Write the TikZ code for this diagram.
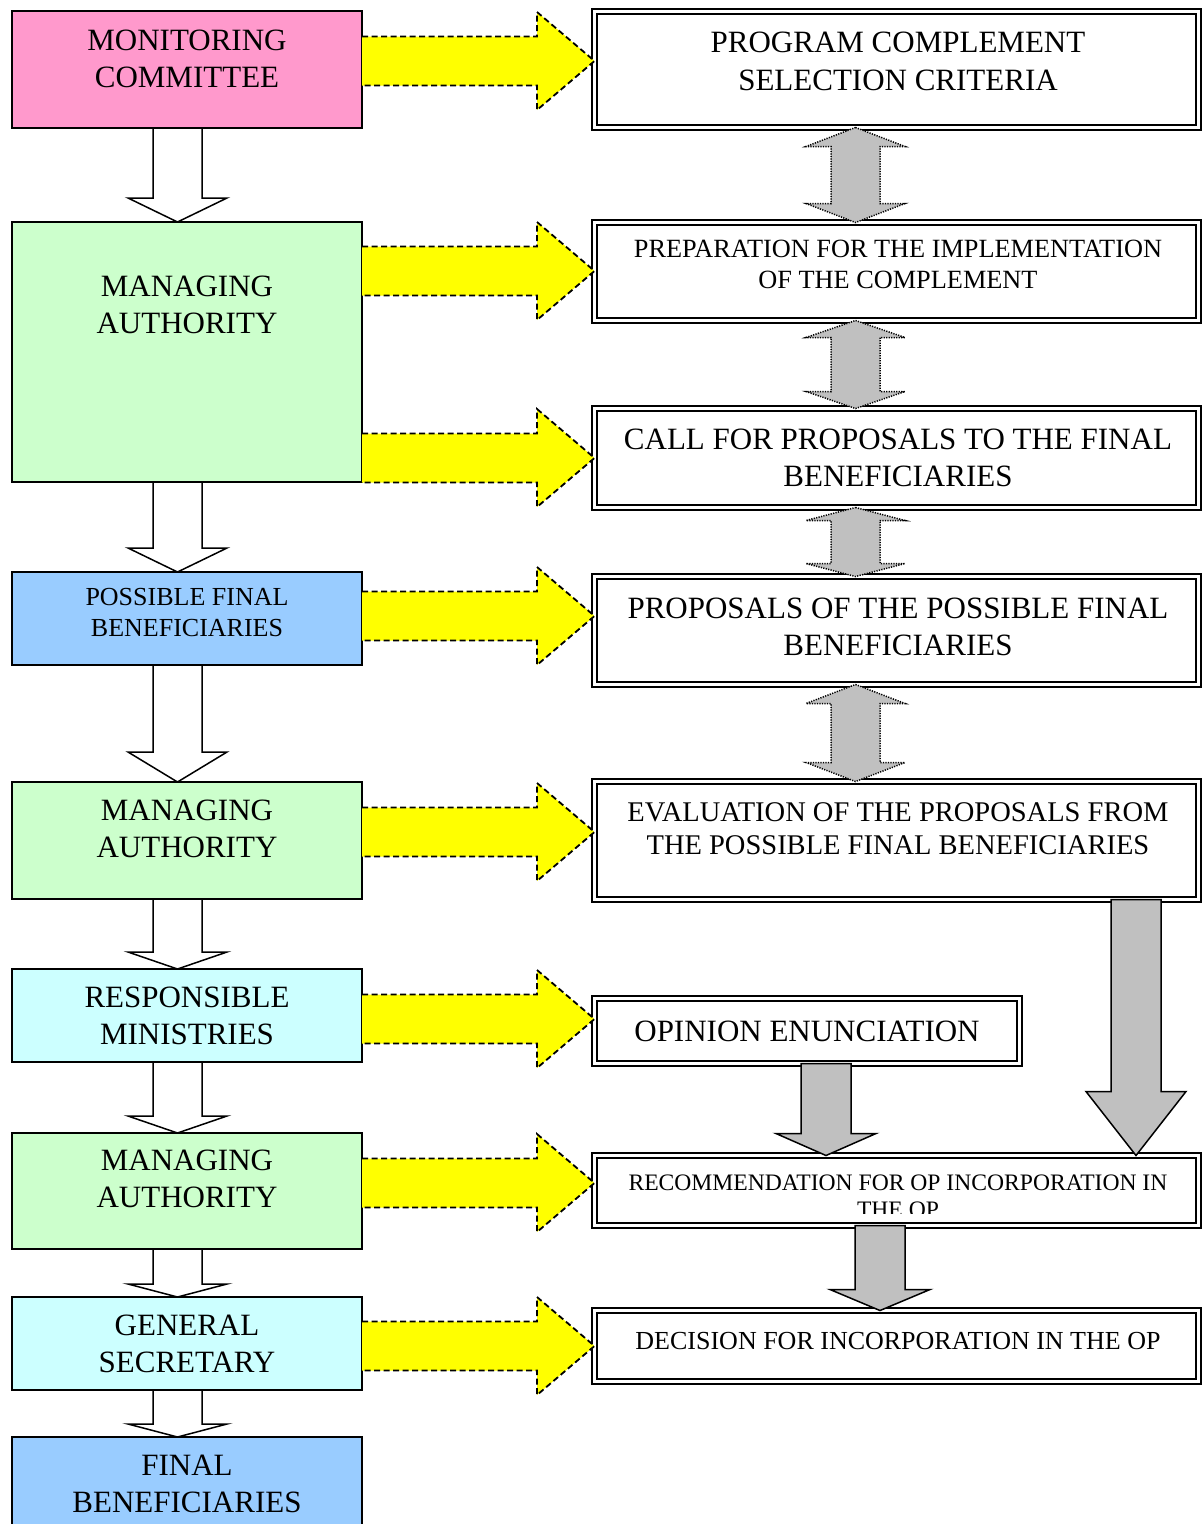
\documentclass[tikz,border=0pt]{standalone}
\usepackage{fontspec}
\setmainfont{Liberation Serif}
\usetikzlibrary{calc}
\definecolor{cpink}{HTML}{FF99CC}
\definecolor{cgreen}{HTML}{CCFFCC}
\definecolor{cblue}{HTML}{99CCFF}
\definecolor{ccyan}{HTML}{CCFFFF}
\definecolor{cyel}{HTML}{FFFF00}
\definecolor{cgray}{HTML}{C0C0C0}
\tikzset{
  lbox/.style={draw, line width=1.5pt, outer sep=0pt, inner sep=0pt, minimum width=350pt},
  rbox/.style={draw, line width=2pt, double=white, double distance=3pt, outer sep=0pt, inner sep=0pt},
  fbig/.style={font=\fontsize{31}{37}\selectfont, align=center, inner sep=0pt},
  fmid/.style={font=\fontsize{28.5}{33}\selectfont, align=center, inner sep=0pt},
  fsmall/.style={font=\fontsize{26}{31}\selectfont, align=center, inner sep=0pt},
  ftiny/.style={font=\fontsize{23.6}{27}\selectfont, align=center, inner sep=0pt},
  yfill/.style={fill=cyel},
  ydash/.style={draw=black, line width=1.8pt, dash pattern=on 6pt off 3.5pt},
  warr/.style={draw=black, line width=1.5pt, line join=miter},
  garr/.style={draw=black, fill=cgray, line width=1.5pt, line join=miter},
  gdarr/.style={draw=black, fill=cgray, line width=1.5pt, dash pattern=on 1.2pt off 1.3pt},
}
% yellow block arrow from left node #1 to right node #2 at height #3
\newcommand\yarrow[3]{%
  \fill[yfill] let \p1=(#1.east), \p2=(#2.west) in
    (\x1,{-#3pt+24.5pt}) -- (\x2-57.5pt,{-#3pt+24.5pt}) -- (\x2-57.5pt,{-#3pt+49pt}) --
    (\x2,{-#3pt}) -- (\x2-57.5pt,{-#3pt-49pt}) -- (\x2-57.5pt,{-#3pt-24.5pt}) --
    (\x1,{-#3pt-24.5pt}) -- cycle;
  \draw[ydash] let \p1=(#1.east), \p2=(#2.west) in
    (\x1,{-#3pt+24.5pt}) -- (\x2-57.5pt,{-#3pt+24.5pt}) -- (\x2-57.5pt,{-#3pt+49pt}) --
    (\x2,{-#3pt}) -- (\x2-57.5pt,{-#3pt-49pt}) -- (\x2-57.5pt,{-#3pt-24.5pt}) --
    (\x1,{-#3pt-24.5pt});}
% white block arrow between left nodes, head height #3
\newcommand\warrow[3]{%
  \draw[warr] let \p1=(#1.south), \p2=(#2.north) in
    (\x1-34pt,\y1) -- (\x1-34pt,\y2+#3pt) -- (\x1-59pt,\y2+#3pt) -- (\x1-9.5pt,\y2) --
    (\x1+40pt,\y2+#3pt) -- (\x1+15pt,\y2+#3pt) -- (\x1+15pt,\y1);}
% grey single block arrow: #3 centre x, #4 head height
\newcommand\garrow[4]{%
  \draw[garr] let \p1=(#1.south), \p2=(#2.north) in
    ({#3pt-25pt},\y1) -- ({#3pt-25pt},\y2+#4pt) -- ({#3pt-50pt},\y2+#4pt) -- (#3pt,\y2) --
    ({#3pt+50pt},\y2+#4pt) -- ({#3pt+25pt},\y2+#4pt) -- ({#3pt+25pt},\y1) -- cycle;}
% grey double block arrow, head height #3
\newcommand\gdarrow[3]{%
  \draw[gdarr] let \p1=(#1.south), \p2=(#2.north) in
    (855.5pt,\y1) -- (905pt,\y1-#3pt) -- (880pt,\y1-#3pt) -- (880pt,\y2+#3pt) --
    (905pt,\y2+#3pt) -- (855.5pt,\y2) -- (806pt,\y2+#3pt) -- (831pt,\y2+#3pt) --
    (831pt,\y1-#3pt) -- (806pt,\y1-#3pt) -- cycle;}
\begin{document}
\begin{tikzpicture}[x=1pt, y=-1pt]
\useasboundingbox (0,0) rectangle (1203,1524);
\clip (0,0) rectangle (1203,1524);

% left boxes
\node[lbox, fill=cpink,  minimum height=117pt] (L1) at (187,69.5) {};
\node[lbox, fill=cgreen, minimum height=260pt] (L2) at (187,352) {};
\node[lbox, fill=cblue,  minimum height=93pt]  (L3) at (187,618.5) {};
\node[lbox, fill=cgreen, minimum height=117pt] (L4) at (187,840.5) {};
\node[lbox, fill=ccyan,  minimum height=93pt]  (L5) at (187,1015.5) {};
\node[lbox, fill=cgreen, minimum height=116pt] (L6) at (187,1191) {};
\node[lbox, fill=ccyan,  minimum height=93pt]  (L7) at (187,1343.5) {};
\node[lbox, fill=cblue,  minimum height=103pt] (L8) at (187,1488.5) {};

\node[fbig]   (tL1) at (187,58.5)   {MONITORING\\COMMITTEE};
\node[fbig]   (tL2) at (187,304.5)  {MANAGING\\AUTHORITY};
\node[fsmall] (tL3) at (187,613)    {POSSIBLE FINAL\\BENEFICIARIES};
\node[fbig]   (tL4) at (187,828.5)  {MANAGING\\AUTHORITY};
\node[fbig]   (tL5) at (187,1016)   {RESPONSIBLE\\MINISTRIES};
\node[fbig]   (tL6) at (187,1179)   {MANAGING\\AUTHORITY};
\node[fbig]   (tL7) at (187,1343.5) {GENERAL\\SECRETARY};
\node[fbig]   (tL8) at (187,1483.5) {FINAL\\BENEFICIARIES};

% right boxes
\node[rbox, minimum width=603.5pt, minimum height=116pt] (R1) at (896.25,69.5) {};
\node[rbox, minimum width=603.5pt, minimum height=98pt]  (R2) at (896.25,271.5) {};
\node[rbox, minimum width=603.5pt, minimum height=99pt]  (R3) at (896.25,458) {};
\node[rbox, minimum width=603.5pt, minimum height=108pt] (R4) at (896.25,630.5) {};
\node[rbox, minimum width=603.5pt, minimum height=118pt] (R5) at (896.25,840.5) {};
\node[rbox, minimum width=425pt,   minimum height=65pt]  (R6) at (807,1031) {};
\node[rbox, minimum width=603.5pt, minimum height=70pt]  (R7) at (896.25,1190.5) {};
\node[rbox, minimum width=603.5pt, minimum height=71pt]  (R8) at (896.25,1346) {};

\node[fbig, font=\fontsize{31}{38}\selectfont] (tR1) at (898,61) {PROGRAM COMPLEMENT\\SELECTION CRITERIA};
\node[fsmall, font=\fontsize{26.3}{31}\selectfont] (tR2) at (898,264.5) {PREPARATION FOR THE IMPLEMENTATION\\OF THE COMPLEMENT};
\node[fbig]   (tR3) at (898,457.5) {CALL FOR PROPOSALS TO THE FINAL\\BENEFICIARIES};
\node[fbig]   (tR4) at (898,626.5) {PROPOSALS OF THE POSSIBLE FINAL\\BENEFICIARIES};
\node[fmid]   (tR5) at (898,828.5) {EVALUATION OF THE PROPOSALS FROM\\THE POSSIBLE FINAL BENEFICIARIES};
\node[fbig]   (tR6) at (807,1031)  {OPINION ENUNCIATION};
\begin{scope}
  \clip (598,1158) rectangle (1196,1213.5);
  \node[ftiny] (tR7) at (898,1196.5) {RECOMMENDATION FOR OP INCORPORATION IN\\THE OP};
\end{scope}
\node[fsmall] (tR8) at (898,1341) {DECISION FOR INCORPORATION IN THE OP};

% white arrows (left column)
\warrow{L1}{L2}{24}
\warrow{L2}{L3}{24}
\warrow{L3}{L4}{30}
\warrow{L4}{L5}{17}
\warrow{L5}{L6}{17}
\warrow{L6}{L7}{13}
\warrow{L7}{L8}{13}

% yellow arrows
\yarrow{L1}{R1}{61}
\yarrow{L2}{R2}{271}
\yarrow{L2}{R3}{458}
\yarrow{L3}{R4}{616}
\yarrow{L4}{R5}{832}
\yarrow{L5}{R6}{1019}
\yarrow{L6}{R7}{1183}
\yarrow{L7}{R8}{1346}

% grey double arrows
\gdarrow{R1}{R2}{19}
\gdarrow{R2}{R3}{17}
\gdarrow{R3}{R4}{13}
\gdarrow{R4}{R5}{19}

% grey single arrows
\garrow{R5}{R7}{1136}{64}
\garrow{R6}{R7}{826}{22}
\garrow{R7}{R8}{880}{21}
\end{tikzpicture}
\end{document}
